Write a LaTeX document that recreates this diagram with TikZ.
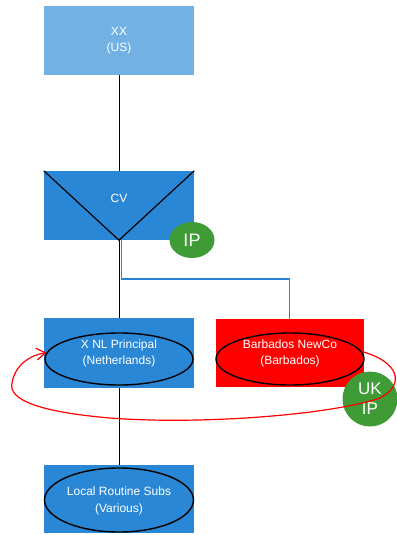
\documentclass[tikz,border=0pt]{standalone}
\usepackage{fontspec}
\setmainfont{Liberation Sans}
\usetikzlibrary{shapes.geometric,arrows.meta}
\definecolor{paleblue}{HTML}{71B1E3}
\definecolor{midblue}{HTML}{2A87D6}
\definecolor{branchblue}{RGB}{40,130,215}
\definecolor{ipgreen}{HTML}{3F9B35}
\begin{document}
\begin{tikzpicture}[x=1pt,y=-1pt,
  entity/.style={rectangle, minimum width=150pt, minimum height=69pt, inner sep=0pt,
    text=white, align=center, font=\fontsize{12}{16.7}\selectfont},
  oval/.style={ellipse, draw=black, line width=1.4pt, inner sep=0pt},
  badge/.style={ellipse, fill=ipgreen, text=white, inner sep=0pt, align=center},
  link/.style={draw=black, line width=0.9pt},
  branch/.style={draw=branchblue, line width=1.5pt}]
\useasboundingbox (0,0) rectangle (396,535);

% entity boxes
\node[entity, fill=paleblue] (xx) at (119,40.5) {XX\\(US)};
\node[entity, fill=midblue] (cv) at (119,205.5) {};
\node[text=white, font=\fontsize{12}{16.7}\selectfont] (cvlabel) at (119,198) {CV};
\node[entity, fill=midblue, minimum height=70pt] (nl) at (119,353) {};
\node[entity, fill=red, minimum width=148pt, minimum height=68pt] (bb) at (289.5,353) {};
\node[entity, fill=midblue, minimum height=68pt] (loc) at (119,499) {};

% ovals inside the boxes
\node[oval, minimum width=148pt, minimum height=52pt] (nlE) at (119,359) {};
\node[oval, minimum width=148pt, minimum height=52pt] (bbE) at (290,359) {};
\node[oval, minimum width=149pt, minimum height=64pt] (locE) at (119,500) {};

% box texts
\node[text=white, align=center, font=\fontsize{12}{16.7}\selectfont] (nltext) at (119,353.5) {X NL Principal\\(Netherlands)};
\node[text=white, align=center, font=\fontsize{12}{16.7}\selectfont] (bbtext) at (290,353.5) {Barbados NewCo\\(Barbados)};
\node[text=white, align=center, font=\fontsize{12}{16.7}\selectfont] (loctext) at (119,501) {Local Routine Subs\\(Various)};

% CV partnership mark
\draw[black, line width=1.2pt] (cv.north west) -- (cv.south) -- (cv.north east);

% ownership lines
\draw[link] (xx.south) -- (cv.north);
\draw[link] (cv.south) -- (nl.north);
\path[branch] ([xshift=2.5pt]cv.south) -- ++(0,39) -| (bb.north);
\draw[link] (nl.south) -- (loc.north);

% IP badges
\node[badge, minimum width=45pt, minimum height=36pt, font=\fontsize{18}{20}\selectfont] (ip) at (192,240) {IP};
\node[badge, minimum width=55pt, minimum height=55pt, font=\fontsize{17}{20}\selectfont] (ukip) at (370,399) {UK\\IP};

% licence flow back to the principal
\draw[red, line width=1.2pt, -{Straight Barb[length=9pt,width=12pt]}]
  (bbE.6) .. controls (400,362) and (405,385) .. (380,398)
  .. controls (330,415) and (200,425) .. (110,418)
  .. controls (40,412) and (8,400) .. (12,383)
  .. controls (15,365) and (30,355) .. (nlE.175);
\end{tikzpicture}
\end{document}
